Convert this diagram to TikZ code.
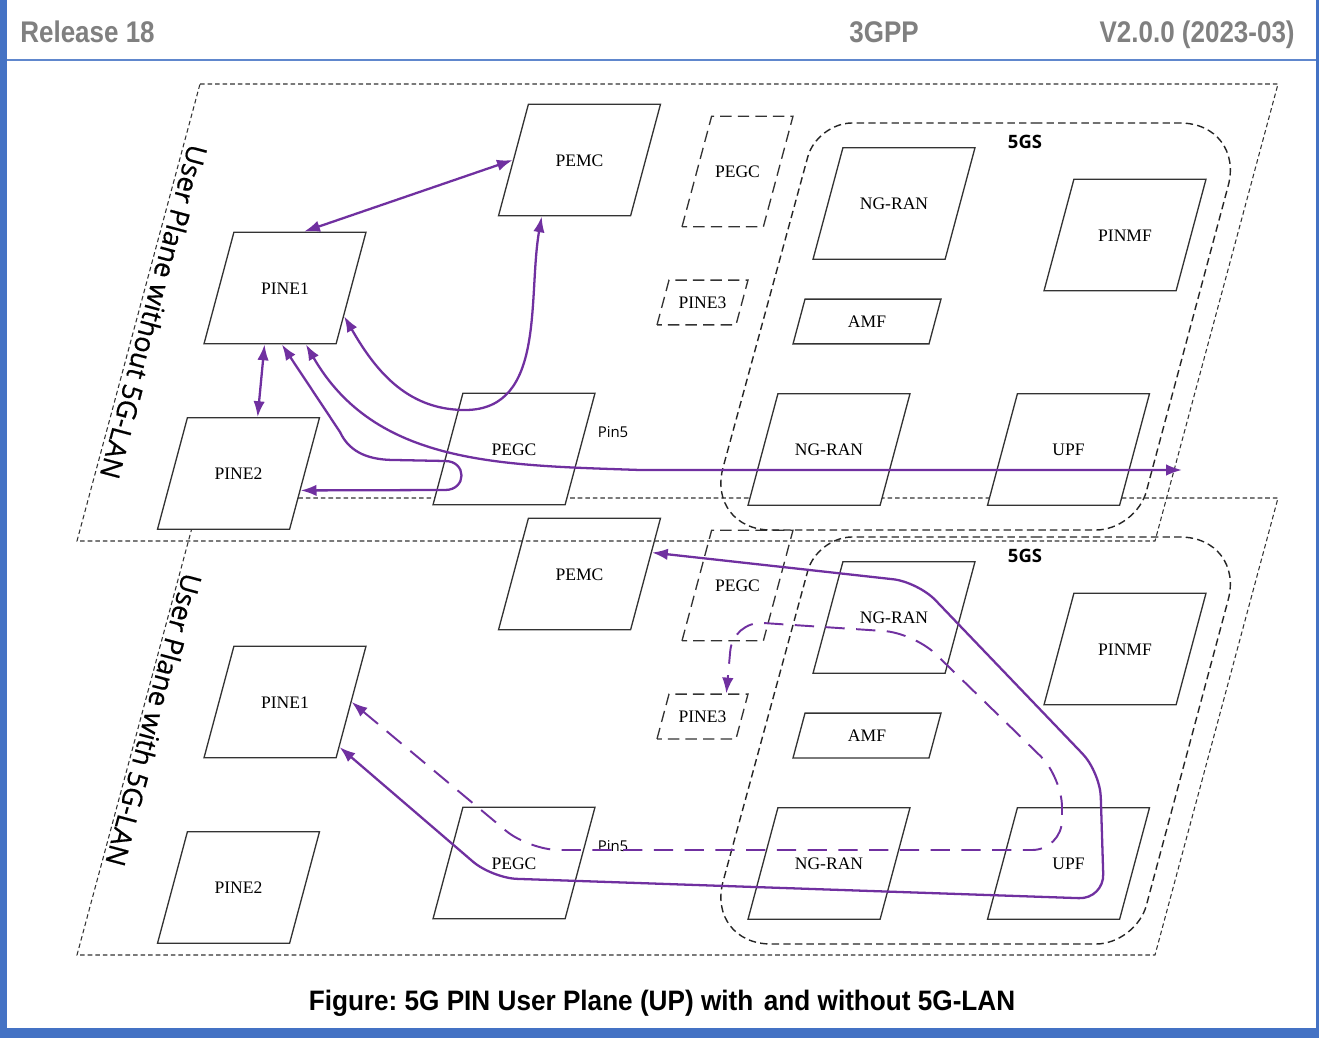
\documentclass[tikz,border=0pt]{standalone}
\usepackage{fontspec}
\setmainfont{Liberation Serif}
\newfontfamily\osans{Open Sans}
\newfontfamily\sidesans[FakeBold=0.5]{Open Sans}
\newfontfamily\hdrfont[FakeStretch=0.87]{Liberation Sans}
\newfontfamily\capfont[FakeStretch=0.93]{Liberation Sans}
\usetikzlibrary{arrows.meta,shapes.geometric,calc}
\definecolor{pinPurple}{RGB}{112,48,160}
\definecolor{frameBlue}{RGB}{68,114,196}
\definecolor{hdrGrey}{RGB}{128,128,128}
\tikzset{
    every node/.append style={align=center},
    fn/.style={trapezium,trapezium left angle=75,trapezium right angle=105,
        trapezium stretches body=true,draw=black!80,line width=0.75pt,fill=white,
        text height=7pt,text depth=0pt,inner xsep=0pt,inner ysep=28.25pt,
        minimum width=3.24cm,font=\fontsize{10}{12}\selectfont},
    fnflat/.style={fn,inner ysep=9.25pt,minimum width=2.96cm},
    fnghost/.style={fn,dash pattern=on 6.5pt off 3.5pt},
    plane/.style={draw=black!80,line width=0.6pt,dash pattern=on 2.6pt off 1.7pt},
    core/.style={draw=black!85,line width=0.8pt,dash pattern=on 4.2pt off 2.4pt},
    arr/.style={{Latex[length=9pt,width=6.5pt]}-{Latex[length=9pt,width=6.5pt]},
        draw=pinPurple,line width=1.3pt},
    darr/.style={arr,line width=1.1pt,dash pattern=on 11pt off 6.5pt},
    sidelbl/.style={font=\sidesans\fontsize{15.5}{18}\selectfont,rotate=-105},
    gslbl/.style={font=\osans\bfseries\fontsize{10.5}{12}\selectfont},
    pinlbl/.style={font=\osans\fontsize{8.5}{10}\selectfont},
    hdr/.style={font=\hdrfont\bfseries\fontsize{17}{20}\selectfont,text=hdrGrey,inner sep=0pt}
}
\frenchspacing
\begin{document}
\begin{tikzpicture}[x=0.02cm,y=-0.02cm]
    \useasboundingbox (0,0) rectangle (1319,1038);
    \fill[white] (0,0) rectangle (1319,1038);

    % page frame and header
    \fill[frameBlue] (0,0) rectangle (7,1038);
    \fill[frameBlue] (1316,0) rectangle (1319,1038);
    \fill[frameBlue] (0,1028) rectangle (1319,1038);
    \draw[frameBlue!85,line width=1pt] (7,60) -- (1316,60);
    \node[hdr,anchor=base west] (rel) at (20,42) {Release 18};
    \node[hdr,anchor=base] (gpp) at (884,42) {3GPP};
    \node[hdr,anchor=base east] (ver) at (1295,42) {V2.0.0 (2023-03)};

    % the two user planes, lower one first
    \foreach \p/\dy/\lan/\ty in {l/414/with/306,u/0/without/312}{
    \begin{scope}[shift={(0,\dy)}]
        \draw[plane] (200,84) -- (1278,84) -- (1155,541) -- (77,541) -- cycle;
        \draw[core] (1000,123) [rounded corners=1.3cm] -- (1245,123) [rounded corners=0.8cm] -- (1136,530)
            [rounded corners=1.3cm] -- (706,530) [rounded corners=0.7cm] -- (817,123) -- cycle;
        \node[gslbl] (\p-5gs) at (1025,142) {5GS};

        \node[fn] (\p-pemc) at (579.5,160) {PEMC};
        \node[fnghost,inner ysep=27.95pt,minimum width=2.22cm] (\p-pegcx) at (737.5,171.5) {PEGC};
        \node[fnghost,inner ysep=9.25pt,minimum width=1.82cm] (\p-pine3) at (702.5,302.5) {PINE3};
        \node[fn] (\p-ngran1) at (894,203.5) {NG-RAN};
        \node[fn] (\p-pinmf) at (1125,235) {PINMF};
        \node[fnflat] (\p-amf) at (867,321.5) {AMF};
        \node[fn] (\p-ngran2) at (829,449.5) {NG-RAN};
        \node[fn] (\p-upf) at (1068.5,449.5) {UPF};
        \node[fn] (\p-pegc) at (514,449) {PEGC};
        \node[fn] (\p-pine1) at (285,288) {PINE1};
        \node[fn] (\p-pine2) at (238.5,473.5) {PINE2};
        \node[pinlbl] (\p-pin5) at (613,432) {Pin5};
        \node[sidelbl] (\p-side) at (154,\ty) {User Plane \lan\ 5G-LAN};
    \end{scope}
    }

    % flows without 5G-LAN
    \coordinate (u-exit) at (1182,470);
    \draw[arr] (u-pemc.left side) -- ($(u-pine1.top left corner)!0.53!(u-pine1.top right corner)$);
    \draw[arr] ($(u-pine1.bottom left corner)!0.46!(u-pine1.bottom right corner)$)
        -- ($(u-pine2.top left corner)!0.53!(u-pine2.top right corner)$);
    \draw[arr] ($(u-pine1.bottom right corner)!0.25!(u-pine1.top right corner)$) to[out=-60,in=180] (465,410)
        to[out=0,in=-100] ($(u-pemc.bottom left corner)!0.33!(u-pemc.bottom right corner)$);
    \draw[arr] ($(u-pine1.bottom left corner)!0.77!(u-pine1.bottom right corner)$) to[out=-60,in=178] (640,470) -- (u-exit);
    \draw[arr] ($(u-pine1.bottom left corner)!0.59!(u-pine1.bottom right corner)$) -- (340,432)
        to[out=-65,in=180] (395,460) -- (445,461) .. controls (467,461) and (467,490) .. (445,490)
        -- ($(u-pine2.bottom right corner)!0.35!(u-pine2.top right corner)$);

    % flows with 5G-LAN
    \begin{scope}[shift={(0,414)}]
        \draw[arr,rounded corners=0.5cm] ($(l-pemc.bottom right corner)!0.69!(l-pemc.top right corner)$)
            -- (918,168) -- (1100,358) -- (1104,485) -- (492,464)
            -- ($(l-pine1.bottom right corner)!0.1!(l-pine1.top right corner)$);
        \draw[darr,rounded corners=0.6cm] (l-pine1.right side) -- (529,436) -- (1062,436) -- (1062,363)
            -- (914,219) -- (733,207) -- ($(l-pine3.top left corner)!0.72!(l-pine3.top right corner)$);
    \end{scope}

    \node[font=\capfont\bfseries\fontsize{16}{19}\selectfont,anchor=base] (caption) at (662,1010)
        {Figure: 5G PIN User Plane (UP) with\hspace{0.12em} and without 5G-LAN};
\end{tikzpicture}
\end{document}
